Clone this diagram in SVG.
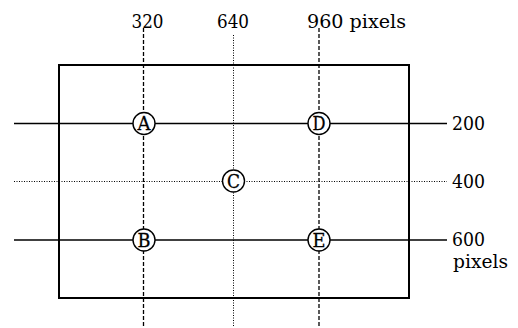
<svg xmlns="http://www.w3.org/2000/svg" width="518" height="328" viewBox="0 0 518 328">
<style>
.node circle{fill:#fff;stroke:#000;stroke-width:1.4}
.node text{font-family:"DejaVu Serif",serif;font-size:19px;text-anchor:middle;fill:#000;stroke:#000;stroke-width:0.3}
.solid{stroke:#000;stroke-width:1.3;fill:none}
.dash{stroke:#000;stroke-width:1.3;stroke-dasharray:4 2;fill:none}
.dot{stroke:#000;stroke-width:1;stroke-dasharray:1 1.5;fill:none}
</style>
<rect x="59" y="65" width="350" height="233" fill="none" stroke="#000" stroke-width="2"/>
<g id="connectors">
<line class="solid" x1="14" y1="123.5" x2="447" y2="123.5"/>
<line class="dot" x1="14" y1="181.5" x2="447" y2="181.5"/>
<line class="solid" x1="14" y1="240" x2="447" y2="240"/>
<line class="dash" x1="143.5" y1="28" x2="143.5" y2="327"/>
<line class="dot" x1="233.5" y1="35" x2="233.5" y2="327"/>
<line class="dash" x1="319" y1="28" x2="319" y2="327"/>
</g>
<g id="labels" font-family="DejaVu Serif, serif" font-size="19" fill="#000">
<text x="131.5" y="28" textLength="32" lengthAdjust="spacingAndGlyphs">320</text>
<text x="217" y="28" textLength="32" lengthAdjust="spacingAndGlyphs">640</text>
<text x="307" y="28" textLength="99" lengthAdjust="spacingAndGlyphs">960 pixels</text>
<text x="452" y="130" textLength="33" lengthAdjust="spacingAndGlyphs">200</text>
<text x="452" y="188" textLength="33" lengthAdjust="spacingAndGlyphs">400</text>
<text x="452" y="246" textLength="33" lengthAdjust="spacingAndGlyphs">600</text>
<text x="453" y="268" textLength="55" lengthAdjust="spacingAndGlyphs">pixels</text>
</g>
<g id="A" class="node"><circle cx="144" cy="123.5" r="11"/><text x="144" y="130.3" textLength="13" lengthAdjust="spacingAndGlyphs">A</text></g>
<g id="D" class="node"><circle cx="319" cy="123.5" r="11"/><text x="319" y="130.3" textLength="13" lengthAdjust="spacingAndGlyphs">D</text></g>
<g id="C" class="node"><circle cx="233.5" cy="181" r="11"/><text x="233.5" y="187.8" textLength="13" lengthAdjust="spacingAndGlyphs">C</text></g>
<g id="B" class="node"><circle cx="144" cy="240" r="11"/><text x="144" y="246.8" textLength="13" lengthAdjust="spacingAndGlyphs">B</text></g>
<g id="E" class="node"><circle cx="319" cy="240" r="11"/><text x="319" y="246.8" textLength="13" lengthAdjust="spacingAndGlyphs">E</text></g>
</svg>
